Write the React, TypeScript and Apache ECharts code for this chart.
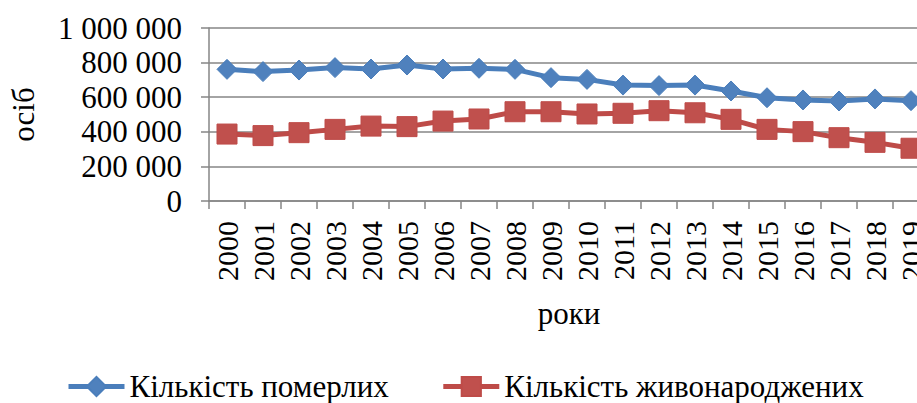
import React, { useEffect, useRef } from "react";
import * as echarts from "echarts";

const years = ["2000","2001","2002","2003","2004","2005","2006","2007","2008","2009","2010","2011","2012","2013","2014","2015","2016","2017","2018","2019"];
const deaths = [761000,748000,757000,771000,763000,786000,763000,767000,761000,713000,703000,670000,667000,670000,636000,597000,584000,578000,590000,580000];
const births = [387000,378000,395000,414000,433000,430000,462000,474000,516000,516000,503000,507000,522000,510000,472000,414000,401000,366000,339000,305000];
const seriesNames = ["Кількість померлих", "Кількість живонароджених"];
const yName = "осіб";
const xName = "роки";

const FONT = "'Liberation Serif', 'Times New Roman', serif";

export default function App() {
  const ref = useRef<HTMLDivElement>(null);
  useEffect(() => {
    if (!ref.current) return;
    const chart = echarts.init(ref.current, null, { renderer: "svg" });
    chart.setOption({
      animation: false,
      backgroundColor: "#ffffff",
      textStyle: { fontFamily: FONT, color: "#000" },
      grid: { left: 203, right: 2, top: 28, bottom: 202, containLabel: false },
      legend: {
        left: 66,
        top: 371,
        padding: 0,
        itemWidth: 56,
        itemHeight: 24,
        itemGap: 52,
        lineStyle: { width: 5 },
        textStyle: { fontFamily: FONT, fontSize: 31, color: "#000" },
        data: seriesNames,
      },
      xAxis: {
        type: "category",
        data: years,
        boundaryGap: true,
        axisLine: { lineStyle: { color: "#868686", width: 1.5 } },
        axisTick: { show: true, length: 8, lineStyle: { color: "#868686", width: 1.5 } },
        axisLabel: { rotate: 90, margin: 20, fontSize: 30, fontFamily: FONT, color: "#000", interval: 0 },
        name: xName,
        nameLocation: "middle",
        nameGap: 97,
        nameTextStyle: { fontSize: 31, fontFamily: FONT, color: "#000" },
        splitLine: { show: false },
      },
      yAxis: {
        type: "value",
        min: 0,
        max: 1000000,
        interval: 200000,
        axisLine: { show: true, lineStyle: { color: "#868686", width: 1.5 } },
        axisTick: { show: true, length: 8, lineStyle: { color: "#868686", width: 1.5 } },
        axisLabel: {
          margin: 27,
          fontSize: 31,
          fontFamily: FONT,
          color: "#000",
          formatter: (v: number) => String(v).replace(/\B(?=(\d{3})+(?!\d))/g, " "),
        },
        splitLine: { show: true, lineStyle: { color: "#868686", width: 1.5 } },
        name: yName,
        nameLocation: "middle",
        nameGap: 170,
        nameTextStyle: { fontSize: 31, fontFamily: FONT, color: "#000" },
      },
      series: [
        {
          name: seriesNames[0],
          type: "line",
          data: deaths,
          symbol: "diamond",
          symbolSize: [20, 20],
          lineStyle: { color: "#4A7EBB", width: 5 },
          itemStyle: { color: "#4F81BD", borderColor: "#4A7EBB", borderWidth: 1 },
        },
        {
          name: seriesNames[1],
          type: "line",
          data: births,
          symbol: "rect",
          symbolSize: [20, 20],
          lineStyle: { color: "#BE4B48", width: 5 },
          itemStyle: { color: "#C0504D", borderColor: "#BE4B48", borderWidth: 1 },
        },
      ],
    });
    return () => chart.dispose();
  }, []);
  return (
    <div
      ref={ref}
      style={{ position: "fixed", left: 0, top: 0, width: 931, height: 403, background: "#fff" }}
    />
  );
}
